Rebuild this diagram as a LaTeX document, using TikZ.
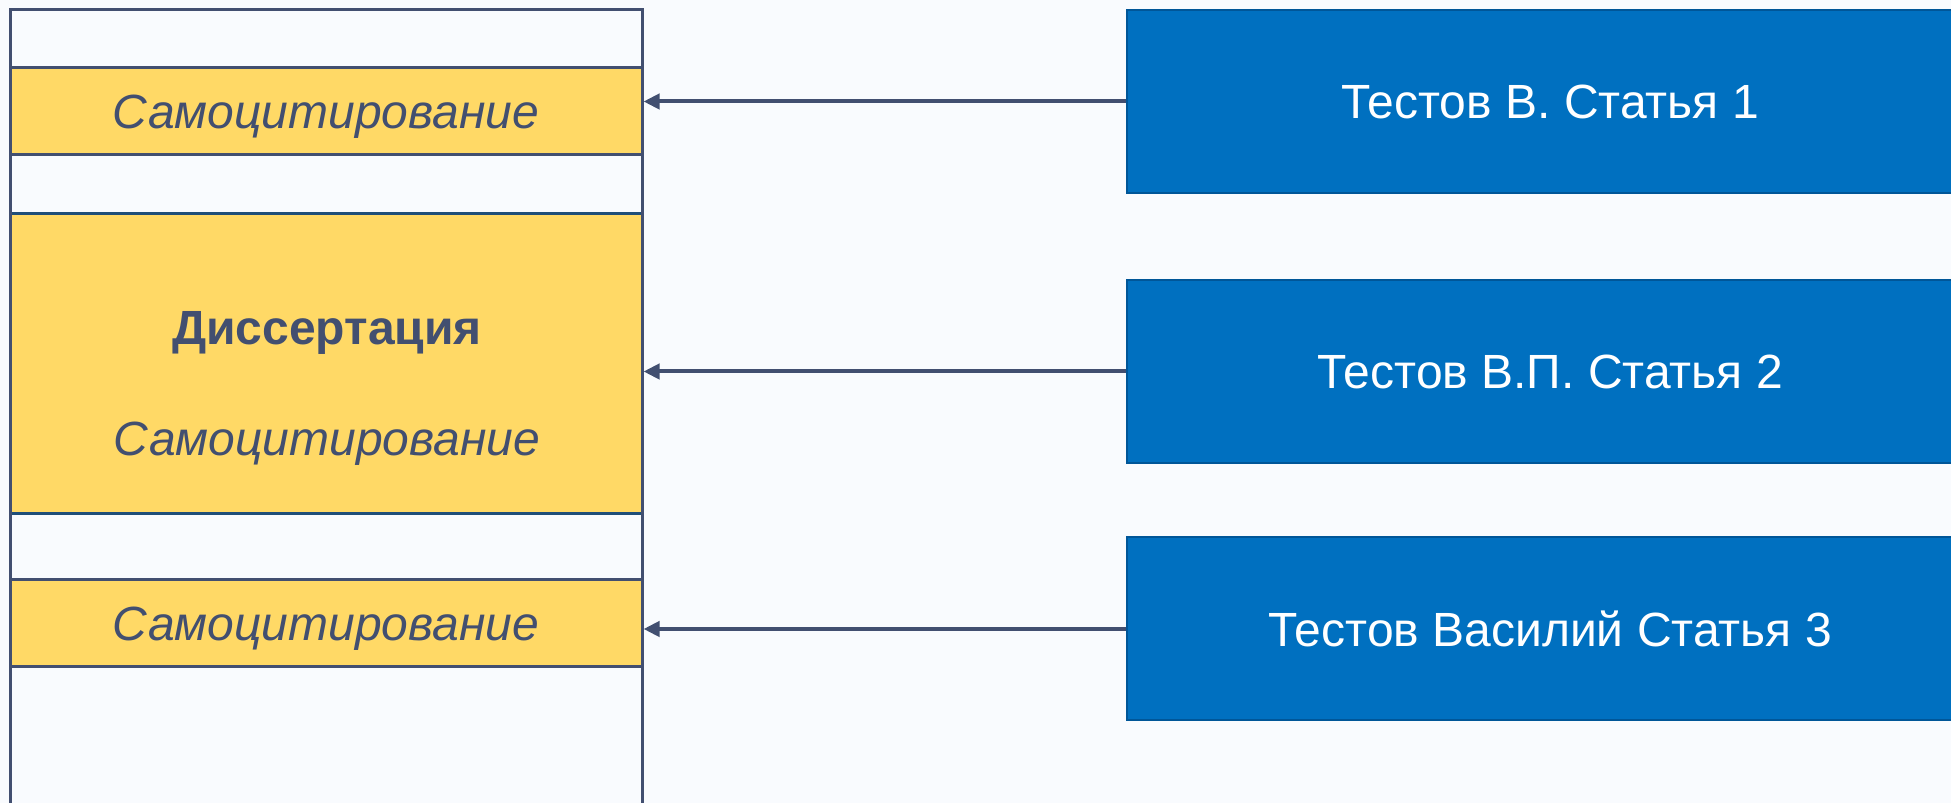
\documentclass[tikz,border=0pt]{standalone}
\usepackage{fontspec}
\setmainfont{Liberation Sans}
\usetikzlibrary{arrows.meta}

% Colores
\definecolor{fondo}{RGB}{249,251,254}
\definecolor{pizarra}{RGB}{66,79,112}
\definecolor{amarillo}{RGB}{255,217,102}
\definecolor{azul}{RGB}{0,112,192}
\definecolor{azulborde}{RGB}{0,86,152}
\definecolor{azuloscuro}{RGB}{31,78,121}

\begin{document}
\begin{tikzpicture}[x=0.5pt, y=0.5pt, >={Triangle[length=8pt,width=7.5pt]},
    banda/.style={fill=amarillo, draw=pizarra, line width=1.5pt, minimum width=316pt,
        inner sep=0pt, text depth=0pt, text=pizarra, font=\fontsize{24}{28}\selectfont\itshape},
    texto/.style={text=pizarra, inner sep=0pt, text depth=0pt, font=\fontsize{24}{28}\selectfont},
    articulo/.style={fill=azul, draw=azulborde, line width=1pt, minimum width=423pt,
        minimum height=91.5pt, inner sep=0pt, text=white, font=\fontsize{24}{28}\selectfont},
    cita/.style={->, draw=pizarra, line width=2pt}]

    % Fondo y recorte
    \clip (0,0) rectangle (1951,803);
    \fill[fondo] (0,0) rectangle (1951,803);

    % Bandas amarillas de la columna
    \node[banda, minimum height=43.5pt] (auto1) at (326,691.5) {Самоцитирование};
    \node[banda, minimum height=150pt, draw=azuloscuro] (disert) at (326,439) {};
    \node[banda, minimum height=43.5pt] (auto3) at (326,179.5) {Самоцитирование};

    % Textos de la disertacion
    \node[texto, font=\fontsize{24}{28}\selectfont\bfseries] (titulo) at (327,475) {Диссертация};
    \node[texto, font=\fontsize{24}{28}\selectfont\itshape] (auto2) at (327,364) {Самоцитирование};

    % Contorno de la columna (abierta por abajo)
    \coordinate (colSI) at (10,793);
    \coordinate (colSD) at (642,793);
    \draw[pizarra, line width=1.5pt] (10,-10) -- (colSI) -- (colSD) -- (642,-10);

    % Articulos
    \node[articulo] (art1) at (1550,701.5) {Тестов В. Статья 1};
    \node[articulo] (art2) at (1550,431.5) {Тестов В.П. Статья 2};
    \node[articulo] (art3) at (1550,174) {Тестов Василий Статья 3};

    % Flechas de citas
    \foreach \a/\b in {art1/auto1, art2/disert, art3/auto3}
        \draw[cita] (\a.west) -- (\a.west -| \b.east);

\end{tikzpicture}
\end{document}
